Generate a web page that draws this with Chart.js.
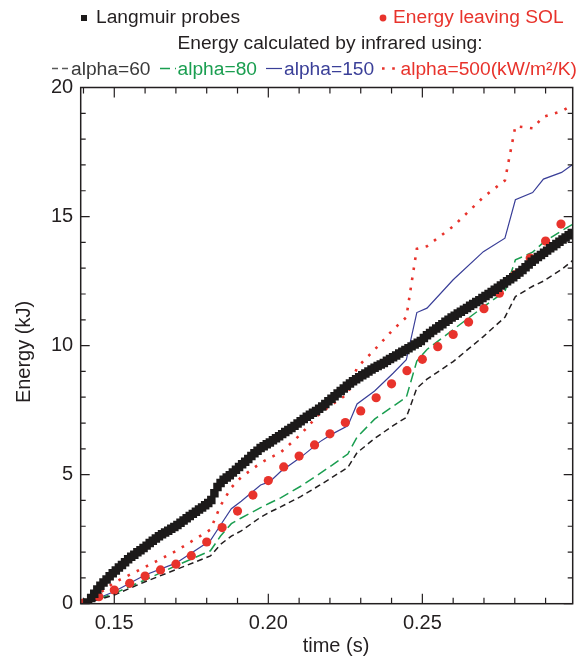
<!DOCTYPE html>
<html><head><meta charset="utf-8">
<script src="https://cdn.jsdelivr.net/npm/chart.js@4/dist/chart.umd.min.js"></script>
<style>html,body{margin:0;padding:0;background:#fff;}#c{display:block;}</style>
</head><body>
<canvas id="c" width="585" height="657"></canvas>
<script>
// ---- data ----
const langT = [0.1415,0.1425,0.1435,0.1445,0.1455,0.1465,0.1475,0.1485,0.1495,0.1505,0.1515,0.1525,0.1535,0.1545,0.1555,0.1565,0.1575,0.1585,0.1595,0.1605,
0.1615,0.1625,0.1635,0.1645,0.1655,0.1665,0.1675,0.1685,0.1695,0.1705,0.1715,0.1725,0.1735,0.1745,0.1755,0.1765,0.1775,0.1785,0.1795,0.1805,
0.1815,0.1825,0.1835,0.1845,0.1855,0.1865,0.1875,0.1885,0.1895,0.1905,0.1915,0.1925,0.1935,0.1945,0.1955,0.1965,0.1975,0.1985,0.1995,0.2005,
0.2015,0.2025,0.2035,0.2045,0.2055,0.2065,0.2075,0.2085,0.2095,0.2105,0.2115,0.2125,0.2135,0.2145,0.2155,0.2165,0.2175,0.2185,0.2195,0.2205,
0.2215,0.2225,0.2235,0.2245,0.2255,0.2265,0.2275,0.2285,0.2295,0.2305,0.2315,0.2325,0.2335,0.2345,0.2355,0.2365,0.2375,0.2385,0.2395,0.2405,
0.2415,0.2425,0.2435,0.2445,0.2455,0.2465,0.2475,0.2485,0.2495,0.2505,0.2515,0.2525,0.2535,0.2545,0.2555,0.2565,0.2575,0.2585,0.2595,0.2605,
0.2615,0.2625,0.2635,0.2645,0.2655,0.2665,0.2675,0.2685,0.2695,0.2705,0.2715,0.2725,0.2735,0.2745,0.2755,0.2765,0.2775,0.2785,0.2795,0.2805,
0.2815,0.2825,0.2835,0.2845,0.2855,0.2865,0.2875,0.2885,0.2895,0.2905,0.2915,0.2925,0.2935,0.2945,0.2955,0.2965,0.2975,0.2985];
const langE = [0.05,0.22,0.39,0.55,0.70,0.82,0.94,1.06,1.18,1.29,1.40,1.50,1.61,1.72,1.82,1.90,1.99,2.07,2.16,2.25,
2.35,2.44,2.53,2.61,2.69,2.76,2.83,2.90,2.97,3.05,3.14,3.22,3.31,3.40,3.48,3.56,3.65,3.73,3.81,3.90,
4.02,4.28,4.52,4.68,4.80,4.89,4.98,5.08,5.19,5.30,5.40,5.50,5.61,5.72,5.83,5.93,6.03,6.10,6.18,6.25,
6.33,6.41,6.49,6.57,6.65,6.73,6.81,6.89,6.98,7.07,7.16,7.24,7.32,7.40,7.47,7.55,7.64,7.74,7.84,7.94,
8.04,8.14,8.24,8.34,8.44,8.53,8.62,8.70,8.77,8.85,8.92,9.00,9.07,9.14,9.21,9.27,9.33,9.41,9.48,9.55,
9.62,9.69,9.76,9.83,9.90,9.97,10.04,10.11,10.18,10.29,10.40,10.49,10.58,10.66,10.75,10.83,10.92,11.00,11.09,11.16,
11.24,11.31,11.39,11.46,11.54,11.61,11.69,11.76,11.84,11.92,12.00,12.08,12.16,12.24,12.33,12.41,12.49,12.57,12.65,12.74,
12.83,12.93,13.04,13.14,13.25,13.34,13.43,13.51,13.60,13.68,13.77,13.85,13.94,14.02,14.11,14.19,14.28,14.36];

const solT = [0.140,0.145,0.150,0.155,0.160,0.165,0.170,0.175,0.180,0.185,0.190,0.195,0.200,0.205,0.210,0.215,0.220,0.225,0.230,0.235,0.240,0.245,0.250,0.255,0.260,0.265,0.270,0.275,0.280,0.285,0.290,0.295];
const solE = [0.02,0.27,0.53,0.79,1.07,1.31,1.53,1.86,2.39,2.95,3.59,4.21,4.77,5.30,5.72,6.15,6.58,7.02,7.47,7.98,8.52,9.03,9.47,9.96,10.43,10.91,11.43,12.03,12.74,13.39,14.05,14.71];

const irT      = [0.1405,0.150,0.160,0.170,0.1812,0.1845,0.188,0.1912,0.1975,0.2005,0.204,0.2105,0.2168,0.2205,0.2258,0.2288,0.2345,0.2405,0.2448,0.2482,0.2515,0.260,0.2698,0.2768,0.2802,0.2858,0.2893,0.2952,0.2988];
const alpha60  = [0,0.34,0.85,1.32,1.85,2.30,2.62,2.82,3.35,3.55,3.75,4.15,4.60,4.88,5.28,5.85,6.40,6.90,7.22,8.35,8.70,9.38,10.35,11.10,11.90,12.30,12.50,12.95,13.30];
const alpha80  = [0,0.40,0.92,1.47,2.05,2.62,3.10,3.32,3.72,3.90,4.10,4.55,5.05,5.35,5.80,6.45,7.15,7.65,8.00,9.40,9.85,10.62,11.50,12.10,13.32,13.62,14.00,14.45,14.70];
const alpha150 = [0,0.47,1.11,1.57,2.45,3.05,3.68,3.97,4.60,4.73,5.12,5.67,6.28,6.56,6.89,7.74,8.24,8.93,9.45,11.28,11.45,12.55,13.64,14.16,15.65,15.93,16.45,16.71,17.02];
const alpha500 = [0,0.82,1.42,2.04,2.87,3.80,4.50,4.90,5.45,5.65,5.86,6.56,7.38,7.70,8.13,9.15,9.84,10.62,11.10,13.75,13.85,14.62,15.75,16.40,18.50,18.42,18.87,19.08,19.33];

const xTickValues = [0.15,0.20,0.25];
const xTickLabels = ['0.15','0.20','0.25'];
const xMinorTicks = [0.14,0.15,0.16,0.17,0.18,0.19,0.20,0.21,0.22,0.23,0.24,0.25,0.26,0.27,0.28,0.29];
const yTickValues = [0,5,10,15,20];
const yTickLabels = ['0','5','10','15','20'];
const yMinorTicks = [0,1,2,3,4,5,6,7,8,9,10,11,12,13,14,15,16,17,18,19,20];

const seriesNames = ['Langmuir probes','Energy leaving SOL','alpha=60','alpha=80','alpha=150','alpha=500(kW/m²/K)'];
const legendTitle = 'Energy calculated by infrared using:';
const xTitle = 'time (s)';
const yTitle = 'Energy (kJ)';

// ---- styling ----
const FONT = "'Liberation Sans', Arial, Helvetica, sans-serif";
const INK = '#231f20';
const C60 = '#231f20', C80 = '#1a9e50', C150 = '#3a3f98', C500 = '#e8332c', CSOL = '#e8332c';

const pts = (xs, ys) => xs.map((t, i) => ({x: t, y: ys[i]}));

const framePlugin = {
  id: 'frame',
  afterDatasetsDraw(chart) {
    const {ctx, chartArea: a, scales: {x, y}} = chart;
    ctx.save();
    ctx.strokeStyle = INK;
    ctx.lineWidth = 1.2;
    ctx.beginPath();
    yMinorTicks.forEach(v => {
      const p = y.getPixelForValue(v);
      const len = yTickValues.includes(v) ? 9 : 5;
      ctx.moveTo(a.left, p); ctx.lineTo(a.left + len, p);
      ctx.moveTo(a.right, p); ctx.lineTo(a.right - len, p);
    });
    xMinorTicks.forEach(v => {
      const p = x.getPixelForValue(v);
      const major = xTickValues.some(t => Math.abs(t - v) < 1e-9);
      const len = major ? 10 : 6;
      ctx.moveTo(p, a.bottom); ctx.lineTo(p, a.bottom - len);
      ctx.moveTo(p, a.top); ctx.lineTo(p, a.top + len);
    });
    ctx.stroke();
    ctx.lineWidth = 1.5;
    ctx.strokeRect(a.left, a.top, a.right - a.left, a.bottom - a.top);
    ctx.restore();
  }
};

const textPlugin = {
  id: 'customLegend',
  afterDraw(chart) {
    const ctx = chart.ctx;
    const ds = chart.data.datasets;
    ctx.save();
    // axis titles
    ctx.font = '20px ' + FONT;
    ctx.fillStyle = INK;
    ctx.textAlign = 'center';
    ctx.textBaseline = 'middle';
    ctx.fillText(xTitle, 336, 646);
    ctx.save();
    ctx.translate(24, 352);
    ctx.rotate(-Math.PI / 2);
    ctx.fillText(yTitle, 0, 0);
    ctx.restore();
    // legend
    ctx.font = '19.2px ' + FONT;
    ctx.textBaseline = 'alphabetic';
    ctx.fillStyle = ds[0].backgroundColor;
    ctx.fillRect(81, 15, 6, 6);
    ctx.fillStyle = INK; ctx.textAlign = 'left';
    ctx.fillText(seriesNames[0], 96, 23);
    ctx.fillStyle = ds[1].backgroundColor;
    ctx.beginPath(); ctx.arc(383, 18, 3.4, 0, Math.PI * 2); ctx.fill();
    ctx.fillText(seriesNames[1], 393, 23);
    ctx.fillStyle = INK; ctx.textAlign = 'center';
    ctx.fillText(legendTitle, 330, 49);
    ctx.textAlign = 'left';
    const row = [
      {d: ds[2], x0: 52, x1: 69, tx: 71, col: '#3a3a3a', lc: '#5a5a5a'},
      {d: ds[3], x0: 160, x1: 176, tx: 177.5, col: C80},
      {d: ds[4], x0: 266, x1: 282, tx: 284, col: C150},
      {d: ds[5], x0: 382, x1: 399, tx: 400.5, col: C500}
    ];
    row.forEach((r, i) => {
      ctx.save();
      ctx.strokeStyle = r.lc || r.d.borderColor;
      ctx.lineWidth = r.d.borderWidth;
      ctx.setLineDash(r.d.borderDash || []);
      ctx.beginPath(); ctx.moveTo(r.x0, 68.5); ctx.lineTo(r.x1, 68.5); ctx.stroke();
      ctx.restore();
      ctx.fillStyle = r.col;
      ctx.fillText(seriesNames[i + 2], r.tx, 75);
    });
    ctx.restore();
  }
};

new Chart(document.getElementById('c'), {
  type: 'line',
  data: {
    datasets: [
      {label: seriesNames[0], data: pts(langT, langE), showLine: false, pointStyle: 'rect', pointRadius: 6, pointBorderWidth: 0, backgroundColor: '#1c1a1a', borderColor: '#1c1a1a'},
      {label: seriesNames[1], data: pts(solT, solE), showLine: false, pointStyle: 'circle', pointRadius: 4.6, pointBorderWidth: 0, backgroundColor: CSOL, borderColor: CSOL},
      {label: seriesNames[2], data: pts(irT, alpha60), borderColor: C60, borderWidth: 1.5, borderDash: [6, 4], pointRadius: 0, tension: 0},
      {label: seriesNames[3], data: pts(irT, alpha80), borderColor: C80, borderWidth: 1.5, borderDash: [10, 5], pointRadius: 0, tension: 0},
      {label: seriesNames[4], data: pts(irT, alpha150), borderColor: C150, borderWidth: 1.2, pointRadius: 0, tension: 0},
      {label: seriesNames[5], data: pts(irT, alpha500), borderColor: C500, borderWidth: 2.6, borderDash: [2.6, 7.6], pointRadius: 0, tension: 0}
    ]
  },
  options: {
    responsive: false, animation: false, devicePixelRatio: 1,
    layout: {padding: {top: 87.5, right: 12.3, left: 0, bottom: 0}},
    plugins: {legend: {display: false}, tooltip: {enabled: false}},
    scales: {
      x: {
        type: 'linear', min: 0.1391, max: 0.2988,
        afterFit(s) { s.height = 53.3; },
        afterBuildTicks(s) { s.ticks = xTickValues.map(v => ({value: v})); },
        ticks: {
          callback: (v) => xTickLabels[xTickValues.findIndex(t => Math.abs(t - v) < 1e-9)],
          font: {family: FONT, size: 20}, color: INK, padding: 8, maxRotation: 0, autoSkip: false
        },
        grid: {display: false, drawTicks: false}, border: {display: false}
      },
      y: {
        type: 'linear', min: 0, max: 20,
        afterFit(s) { s.width = 80.7; },
        afterBuildTicks(s) { s.ticks = yTickValues.map(v => ({value: v})); },
        ticks: {
          callback: (v) => yTickLabels[yTickValues.indexOf(v)],
          font: {family: FONT, size: 20}, color: INK, padding: 7.5, autoSkip: false
        },
        grid: {display: false, drawTicks: false}, border: {display: false}
      }
    }
  },
  plugins: [framePlugin, textPlugin]
});
</script>
</body></html>
